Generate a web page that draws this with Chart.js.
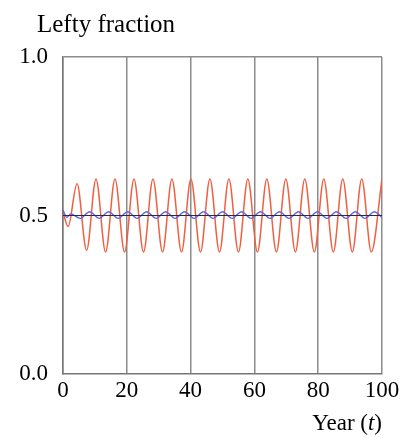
<!DOCTYPE html>
<html>
<head>
<meta charset="utf-8">
<script src="https://cdn.jsdelivr.net/npm/chart.js@4/dist/chart.umd.min.js"></script>
<style>
  html, body { margin: 0; padding: 0; background: #fff; }
  #wrap { width: 407px; height: 438px; }
</style>
</head>
<body>
<div id="wrap"><canvas id="canvas" width="407" height="438"></canvas></div>
<script>
// values
var redYears = [0, 1.6, 4.4, 7.4, 10.35, 13.35, 16.3, 19.3, 22.25, 25.25, 28.2, 31.2, 34.15, 37.15,
    40.1, 43.1, 46.05, 49.05, 52.0, 55.0, 57.95, 60.95, 63.9, 66.9, 69.85, 72.85, 75.8, 78.8,
    81.75, 84.75, 87.7, 90.7, 93.65, 96.65, 100];
var redValues = [0.51, 0.465, 0.60, 0.39, 0.615, 0.385, 0.615, 0.385, 0.615, 0.385, 0.615, 0.385, 0.615, 0.385,
    0.615, 0.385, 0.615, 0.385, 0.615, 0.385, 0.615, 0.385, 0.615, 0.385, 0.615, 0.385, 0.615, 0.385,
    0.615, 0.385, 0.615, 0.385, 0.615, 0.385, 0.615];

var blueYears = [0, 1.2, 2.4, 5.4, 8.35, 11.35, 14.3, 17.3, 20.25, 23.25, 26.2, 29.2, 32.15, 35.15,
    38.1, 41.1, 44.05, 47.05, 50.0, 53.0, 55.95, 58.95, 61.9, 64.9, 67.85, 70.85, 73.8, 76.8,
    79.75, 82.75, 85.7, 88.7, 91.65, 94.65, 97.6, 100];
var blueValues = [0.517, 0.494, 0.505, 0.491, 0.512, 0.491, 0.512, 0.491, 0.512, 0.491, 0.512, 0.491, 0.512, 0.491,
    0.512, 0.491, 0.512, 0.491, 0.512, 0.491, 0.512, 0.491, 0.512, 0.491, 0.512, 0.491, 0.512, 0.491,
    0.512, 0.491, 0.512, 0.491, 0.512, 0.491, 0.512, 0.494];

var refYears = [0, 100];
var refValues = [0.5, 0.5];

var xTicks = [0, 20, 40, 60, 80, 100];
var yTicks = [0.0, 0.5, 1.0];

var serif = "'Liberation Serif', 'DejaVu Serif', serif";

var pairs = function(xs, ys) {
    return xs.map(function(x, i) { return { x: x, y: ys[i] }; });
};

// title and axis label drawn next to the plot area
var labelsPlugin = {
    id: 'labels',
    afterDraw: function(chart) {
        var ctx = chart.ctx, area = chart.chartArea;
        ctx.save();
        ctx.fillStyle = '#000';
        ctx.textBaseline = 'alphabetic';
        ctx.textAlign = 'left';
        ctx.font = '25px ' + serif;
        ctx.fillText('Lefty fraction', area.left - 26, 32);

        var a = 'Year (', c = ')';
        ctx.font = '23px ' + serif;
        var wa = ctx.measureText(a).width, wc = ctx.measureText(c).width;
        ctx.font = 'italic 23px ' + serif;
        var wb = ctx.measureText('t').width;
        var x = area.right - (wa + wb + wc);
        var y = 430;
        ctx.font = '23px ' + serif;
        ctx.fillText(a, x, y);
        ctx.font = 'italic 23px ' + serif;
        ctx.fillText('t', x + wa, y);
        ctx.font = '23px ' + serif;
        ctx.fillText(c, x + wa + wb, y);
        ctx.restore();
    }
};

var config = {
    type: 'line',
    data: {
        datasets: [{
            label: 'reference',
            data: pairs(refYears, refValues),
            borderColor: '#2b2b3a',
            borderWidth: 1,
            pointRadius: 0,
            order: 0
        }, {
            label: 'blue',
            data: pairs(blueYears, blueValues),
            borderColor: 'rgb(95,105,230)',
            borderWidth: 1.4,
            pointRadius: 0,
            cubicInterpolationMode: 'monotone',
            order: 1
        }, {
            label: 'red',
            data: pairs(redYears, redValues),
            borderColor: 'rgb(240,95,65)',
            borderWidth: 1.5,
            pointRadius: 0,
            cubicInterpolationMode: 'monotone',
            order: 2
        }]
    },
    options: {
        responsive: false,
        animation: false,
        layout: { padding: { left: 0, right: 25, top: 57, bottom: 0 } },
        plugins: {
            legend: { display: false },
            tooltip: { enabled: false }
        },
        scales: {
            x: {
                type: 'linear',
                min: 0,
                max: 100,
                afterFit: function(scale) { scale.height = 64; },
                afterBuildTicks: function(scale) {
                    scale.ticks = xTicks.map(function(v) { return { value: v }; });
                },
                border: { display: true, color: '#777', width: 1.5 },
                grid: { color: '#8c8c8c', lineWidth: 1.5, drawTicks: false },
                ticks: {
                    padding: 3,
                    color: '#000',
                    font: { family: serif, size: 23 },
                    callback: function(v) { return String(v); }
                }
            },
            y: {
                min: 0,
                max: 1,
                afterFit: function(scale) { scale.width = 63; },
                afterBuildTicks: function(scale) {
                    scale.ticks = yTicks.map(function(v) { return { value: v }; });
                },
                border: { display: true, color: '#777', width: 1.5 },
                grid: {
                    drawTicks: false,
                    lineWidth: 1.5,
                    color: function(c) { return c.tick && c.tick.value === 1 ? '#8c8c8c' : 'rgba(0,0,0,0)'; }
                },
                ticks: {
                    padding: 15,
                    color: '#000',
                    font: { family: serif, size: 23 },
                    callback: function(v) { return v.toFixed(1); }
                }
            }
        }
    },
    plugins: [labelsPlugin]
};

window.onload = function() {
    window.myLine = new Chart(document.getElementById('canvas'), config);
};
</script>
</body>
</html>
